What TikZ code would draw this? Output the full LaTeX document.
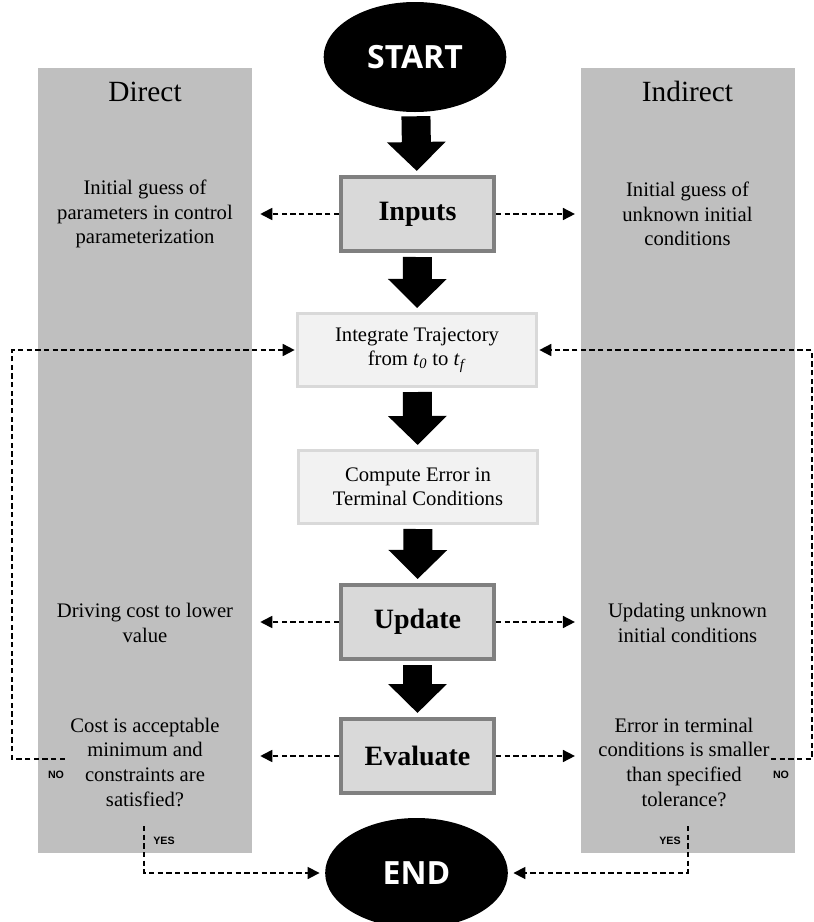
\documentclass[tikz,border=0pt]{standalone}
\usepackage{fontspec}
\setmainfont{Liberation Serif}
\newfontfamily\capsfont{Open Sans}
\newfontfamily\tagfont{Liberation Sans}
\usetikzlibrary{arrows.meta}
\usetikzlibrary{shapes.geometric}
\definecolor{colgray}{HTML}{BFBFBF}
\definecolor{boxgray}{HTML}{D9D9D9}
\definecolor{boxedge}{HTML}{808080}
\definecolor{lightbox}{HTML}{F2F2F2}
\definecolor{lightedge}{HTML}{D9D9D9}
\tikzset{
  column/.style={fill=colgray, minimum width=160.5pt, minimum height=588.75pt, inner sep=0pt},
  header/.style={font=\fontsize{22}{26}\selectfont},
  terminal/.style={ellipse, fill=black, text=white, minimum width=137pt, minimum height=82.5pt, inner sep=0pt, font=\capsfont\bfseries\fontsize{24}{28}\selectfont},
  mainbox/.style={draw=boxedge, fill=boxgray, line width=3pt, minimum width=114.75pt, minimum height=55.5pt, font=\fontsize{21}{25}\selectfont\bfseries},
  lightbox/.style={draw=lightedge, fill=lightbox, line width=2.25pt, minimum width=179.25pt, minimum height=54.75pt, align=center, font=\fontsize{15.5}{18}\selectfont},
  note/.style={align=center, font=\fontsize{15.5}{18.5}\selectfont},
  tag/.style={font=\tagfont\bfseries\fontsize{8}{9.5}\selectfont},
  bigarrow/.style={line width=21.75pt, -{Triangle[length=21.75pt,width=42.75pt]}, shorten <=3pt, shorten >=3pt},
  dasharrow/.style={line width=1.3pt, dash pattern=on 4pt off 2.5pt, -{Triangle[length=9pt,width=9pt]}}
}
\begin{document}
\begin{tikzpicture}[x=0.75pt, y=-0.75pt]
\useasboundingbox (0,0) rectangle (814,922);
%COLONNE
\node[column] (direct) at (145,460.5) {};
\node[column] (indirect) at (687.5,460.5) {};
\node[header, anchor=base] (hdirect) at (145,101) {Direct};
\node[header, anchor=base] (hindirect) at (687.5,101) {Indirect};
%NODI
\node[terminal] (start) at (415,57) {START};
\node[mainbox] (inputs) at (417.5,214) {Inputs};
\node[lightbox] (integrate) at (417,350) {Integrate Trajectory\\from \textit{t}\textsubscript{\textit{0}} to \textit{t}\textsubscript{\textit{f}}};
\node[lightbox] (compute) at (418,487) {Compute Error in\\Terminal Conditions};
\node[mainbox] (update) at (417.5,622) {Update};
\node[mainbox] (evaluate) at (417.5,756) {Evaluate};
\node[terminal] (end) at (416.5,873) {END};
%TESTI
\node[note] (guessL) at (145,214) {Initial guess of\\parameters in control\\parameterization};
\node[note] (guessR) at (687.5,214) {Initial guess of\\unknown initial\\conditions};
\node[note] (updL) at (145,623) {Driving cost to lower\\value};
\node[note] (updR) at (687.5,623) {Updating unknown\\initial conditions};
\node[note] (evalL) at (145,762) {Cost is acceptable\\minimum and\\constraints are\\satisfied?};
\node[note] (evalR) at (684,762) {Error in terminal\\conditions is smaller\\than specified\\tolerance?};
%FRECCE GRANDI
\draw[bigarrow] (start) -- (inputs);
\draw[bigarrow] (inputs) -- (integrate);
\draw[bigarrow] (integrate) -- (compute);
\draw[bigarrow] (compute) -- (update);
\draw[bigarrow] (update) -- (evaluate);
%FRECCE TRATTEGGIATE
\draw[dasharrow, shorten >=6pt] (inputs.west) -- (inputs.west -| direct.east);
\draw[dasharrow, shorten >=4pt] (inputs.east) -- (inputs.east -| indirect.west);
\draw[dasharrow, shorten >=6pt] (update.west) -- (update.west -| direct.east);
\draw[dasharrow, shorten >=4pt] (update.east) -- (update.east -| indirect.west);
\draw[dasharrow, shorten >=6pt] (evaluate.west) -- (evaluate.west -| direct.east);
\draw[dasharrow, shorten >=4pt] (evaluate.east) -- (evaluate.east -| indirect.west);
%CICLI NO
\coordinate (noL) at (65,759);
\coordinate (loopL) at (12,350);
\coordinate (noR) at (771,759);
\coordinate (loopR) at (812,350);
\draw[dasharrow, shorten >=1pt] (noL) -| (loopL) -- (integrate.west);
\draw[dasharrow, shorten >=1pt] (noR) -| (loopR) -- (integrate.east);
\node[tag] (noLtag) at (56,775) {NO};
\node[tag] (noRtag) at (781,775) {NO};
%USCITE YES
\coordinate (yesL) at (144,826);
\coordinate (yesR) at (688,826);
\draw[dasharrow, shorten >=4pt] (yesL) |- (end.west);
\draw[dasharrow, shorten >=4pt] (yesR) |- (end.east);
\node[tag] (yesLtag) at (164,841) {YES};
\node[tag] (yesRtag) at (670,841) {YES};
\end{tikzpicture}
\end{document}
